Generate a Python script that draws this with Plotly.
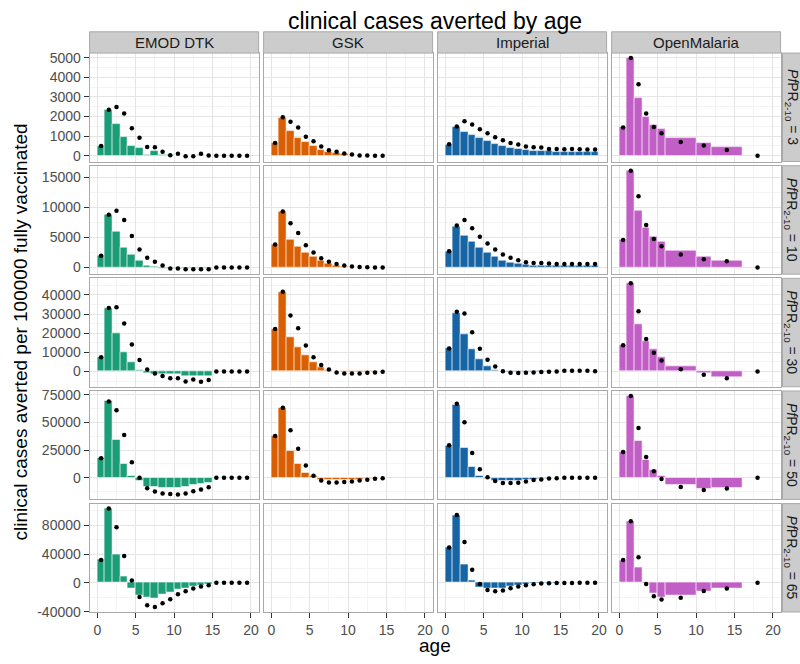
import plotly.graph_objects as go

W, H = 800, 664

models = ["EMOD DTK", "GSK", "Imperial", "OpenMalaria"]
prevalence = [3, 10, 30, 50, 65]
colors = ["#1B9E77", "#D95F02", "#1764A5", "#C25FC6"]

# ---- age bins of the bars (edges) and ages of the points ----
emod_edges = list(range(16))
gsk_edges = list(range(16))
imperial_edges = list(range(21))
om_edges = [0, 1, 2, 3, 4, 5, 6, 10, 12, 16]

emod_point_ages = [a + 0.5 for a in range(20)]
gsk_point_ages = [a + 0.5 for a in range(15)]
imperial_point_ages = [a + 0.5 for a in range(20)]
om_point_ages = [0.5, 1.5, 2.5, 3.5, 4.5, 5.5, 8, 11, 14, 18]

# ---- EMOD DTK ----
emod_bars = [
    [500, 2320, 1590, 970, 470, 370, 40, 220, 50, 20, -30, -40, 10, 30, 10],
    [1910, 8800, 6000, 3380, 2180, 1150, 380, 160, -200, -200, -250, -250, -250, -200, -200],
    [7460, 32900, 20000, 10170, 4750, 680, -1000, -1700, -1700, -1700, -1700, -2400, -2400, -2400, -2400],
    [17650, 69100, 34100, 12350, 1470, -2940, -7940, -7940, -8820, -8820, -8820, -8240, -6470, -5590, -4410],
    [31800, 103200, 38600, 8200, -8200, -18200, -20500, -21400, -16800, -13600, -10000, -7300, -5000, -3600, -1800],
]
emod_points = [
    [500, 2340, 2490, 2160, 1400, 920, 450, 430, 200, 30, 100, -20, -20, 100, 20, 0, 0, 0, 0, 0],
    [1960, 8780, 9440, 7910, 5240, 3000, 1640, 980, 330, -160, -160, -270, -270, -270, -270, 0, 0, 0, 0, 0],
    [7460, 33200, 33560, 25080, 14070, 5930, 1020, -1020, -2370, -3560, -3560, -5250, -4240, -5420, -4400, 0, 0, 0, 0, 0],
    [17650, 68800, 60880, 38530, 14120, 0, -9410, -12350, -14120, -14700, -15000, -14120, -12060, -10590, -8530, 0, 0, 0, 0, 0],
    [31800, 103200, 77300, 37300, 3200, -19500, -30900, -33600, -28200, -22700, -15900, -11800, -7700, -5000, -3200, 0, 0, 0, 0, 0],
]

# ---- GSK (no results at PfPR 65) ----
gsk_bars = [
    [650, 1900, 1240, 920, 690, 470, 300, 200, 130, 70, 30, 10, 5, 0, 0],
    [3770, 9230, 4700, 3550, 2510, 1800, 1150, 660, 330, 160, 50, 20, 10, 0, 0],
    [22200, 41360, 17630, 12540, 8300, 4750, 2030, 340, -200, -600, -600, -600, -500, -400, -200],
    [37650, 63240, 24120, 12650, 4710, 1470, -2350, -2350, -2350, -2200, -1760, -1500, -1200, -800, -300],
    [],
]
gsk_points = [
    [650, 1960, 1740, 1440, 970, 740, 470, 280, 200, 120, 70, 20, 10, 0, 0],
    [3830, 9340, 7380, 5740, 3720, 2510, 1530, 980, 600, 330, 160, 100, 50, 30, 30],
    [22200, 41700, 29300, 22540, 13560, 7460, 3390, 1020, -510, -1020, -1020, -1020, -680, -510, -170],
    [37650, 63240, 42940, 26180, 11180, 1760, -2350, -4120, -4120, -3820, -3240, -2350, -1760, -880, -290],
    [],
]

# ---- Imperial ----
imperial_bars = [
    [535, 1440, 1200, 1040, 900, 750, 600, 480, 400, 330, 280, 250, 230, 220, 200, 190, 185, 180, 175, 170],
    [2620, 6720, 5240, 4320, 3220, 2510, 1800, 1200, 870, 660, 490, 380, 330, 310, 300, 290, 285, 280, 280, 280],
    [11860, 30340, 19150, 11700, 6440, 2540, 680, 0, -500, -500, -500, -500, -350, -250, -150, -50, 0, 0, 0, 0],
    [28820, 65590, 27060, 9410, 1760, -880, -2940, -2940, -2940, -2650, -2060, -1500, -1200, -800, -500, -300, -200, -100, -50, 0],
    [49100, 93600, 25900, 3640, -6800, -8200, -8200, -7300, -5500, -3600, -2300, -1600, -1000, -700, -500, -300, -200, -100, -50, 0],
]
imperial_points = [
    [585, 1490, 1760, 1590, 1350, 1150, 950, 790, 650, 570, 470, 430, 420, 350, 350, 330, 350, 330, 320, 320],
    [2730, 6990, 7920, 6560, 5140, 3990, 3000, 2190, 1640, 1200, 870, 770, 770, 660, 600, 600, 600, 600, 600, 600],
    [12030, 31190, 30340, 20510, 11860, 6100, 2540, 170, -680, -850, -680, -510, -340, -170, 0, 340, 340, 340, 340, 170],
    [29410, 66760, 50000, 22350, 7650, 590, -2940, -4710, -4710, -4410, -3240, -2060, -1470, -590, -300, 0, 0, 0, 0, 0],
    [49100, 94100, 56800, 18200, -1400, -10000, -11800, -10500, -7300, -5000, -3200, -1800, -900, -400, -300, -200, -100, 0, 0, 0],
]

# ---- OpenMalaria ----
om_bars = [
    [1470, 4970, 2960, 1970, 1570, 1370, 900, 670, 430],
    [4640, 16120, 9400, 6560, 5140, 4320, 2790, 1750, 1200],
    [13730, 46000, 24750, 15590, 11360, 7460, 2540, -1190, -2880],
    [23530, 73530, 33530, 16470, 7060, 1470, -6470, -10290, -8820],
    [30900, 84500, 21400, -500, -15000, -20500, -18200, -12300, -7300],
]
om_points = [
    [1440, 4980, 3650, 2160, 1470, 1150, 700, 520, 300, 0],
    [4590, 16120, 11860, 7100, 4750, 3550, 2190, 1370, 1040, 0],
    [13730, 46100, 31530, 16950, 9830, 5760, 1190, -1690, -3560, 0],
    [23240, 73820, 45000, 18820, 5880, -1180, -8240, -10880, -9710, 0],
    [31800, 85500, 35500, -1400, -18600, -23200, -20500, -11400, -7700, 0],
]

# y tick marks for each PfPR row
row_ticks = [
    [0, 1000, 2000, 3000, 4000, 5000],
    [0, 5000, 10000, 15000],
    [0, 10000, 20000, 30000, 40000],
    [0, 25000, 50000, 75000],
    [-40000, 0, 40000, 80000],
]
x_ticks = [0, 5, 10, 15, 20]

edges = [emod_edges, gsk_edges, imperial_edges, om_edges]
point_ages = [emod_point_ages, gsk_point_ages, imperial_point_ages, om_point_ages]
bars = [emod_bars, gsk_bars, imperial_bars, om_bars]
points = [emod_points, gsk_points, imperial_points, om_points]

# ---- panel geometry (pixels) ----
LEFT0, PW, XSTEP = 89.6, 169.0, 174.0
TOP0, PH, YSTEP = 50.0, 110.4, 114.7
STRIP_TOP = 28.3
RSTRIP_X0, RSTRIP_X1 = 782.5, 800.0

FONT = "Liberation Sans, Arial, sans-serif"
GRID_MAJOR = "#e5e5e5"
GRID_MINOR = "#f4f4f4"
BORDER = "#a9a9a9"
TICK_FONT = dict(family=FONT, size=14, color="#4d4d4d")


def px(x):
    return x / W


def py(y):
    return 1 - y / H


def row_range(r):
    vals = [0]
    for m in range(4):
        vals += bars[m][r] + points[m][r]
    lo, hi = min(vals), max(vals)
    pad = 0.05 * (hi - lo)
    return [lo - pad, hi + pad]


def minor_between(ticks, rng):
    step = ticks[1] - ticks[0]
    out = []
    v = ticks[0] - step / 2
    while v > rng[0]:
        v -= step
    while v < rng[1]:
        if v not in ticks:
            out.append(v)
        v += step / 2
    return out


fig = go.Figure()
layout = {}
shapes = []
annotations = []

for r in range(5):
    yr = row_range(r)
    for c in range(4):
        idx = r * 4 + c + 1
        xname = "x" if idx == 1 else f"x{idx}"
        yname = "y" if idx == 1 else f"y{idx}"
        xkey = "xaxis" if idx == 1 else f"xaxis{idx}"
        ykey = "yaxis" if idx == 1 else f"yaxis{idx}"

        e = edges[c]
        bvals = bars[c][r]
        if bvals:
            centers = [(e[i] + e[i + 1]) / 2 for i in range(len(bvals))]
            widths = [e[i + 1] - e[i] for i in range(len(bvals))]
            fig.add_trace(go.Bar(
                x=centers, y=bvals, width=widths,
                marker=dict(color=colors[c],
                            line=dict(color="rgba(255,255,255,0.55)", width=1)),
                xaxis=xname, yaxis=yname, showlegend=False, hoverinfo="skip",
            ))
        pvals = points[c][r]
        fig.add_trace(go.Scatter(
            x=point_ages[c][:len(pvals)], y=pvals, mode="markers",
            marker=dict(color="black", size=4.5),
            xaxis=xname, yaxis=yname, showlegend=False, hoverinfo="skip",
        ))

        left = LEFT0 + c * XSTEP
        top = TOP0 + r * YSTEP
        bottom_row = r == 4
        first_col = c == 0

        layout[xkey] = dict(
            domain=[px(left), px(left + PW)], anchor=yname, range=[-1, 21],
            tickmode="array", tickvals=x_ticks, ticktext=[str(t) for t in x_ticks],
            showticklabels=bottom_row, ticks="outside" if bottom_row else "",
            ticklen=5, tickwidth=1, tickcolor="#333333", tickfont=TICK_FONT,
            showgrid=True, gridcolor=GRID_MAJOR, gridwidth=1,
            minor=dict(tickmode="array", tickvals=[2.5 + 5 * k for k in range(4)],
                       showgrid=True, gridcolor=GRID_MINOR, gridwidth=1, ticks=""),
            showline=True, mirror=True, linecolor=BORDER, linewidth=1,
            zeroline=False, fixedrange=True,
        )
        ticks = row_ticks[r]
        layout[ykey] = dict(
            domain=[py(top + PH), py(top)], anchor=xname, range=yr,
            tickmode="array", tickvals=ticks, ticktext=[str(t) for t in ticks],
            showticklabels=first_col, ticks="outside" if first_col else "",
            ticklen=5, tickwidth=1, tickcolor="#333333", tickfont=TICK_FONT,
            showgrid=True, gridcolor=GRID_MAJOR, gridwidth=1,
            minor=dict(tickmode="array", tickvals=minor_between(ticks, yr),
                       showgrid=True, gridcolor=GRID_MINOR, gridwidth=1, ticks=""),
            showline=True, mirror=True, linecolor=BORDER, linewidth=1,
            zeroline=False, fixedrange=True,
        )

# column strips (model names)
for c, name in enumerate(models):
    left = LEFT0 + c * XSTEP
    shapes.append(dict(type="rect", xref="paper", yref="paper",
                       x0=px(left), x1=px(left + PW), y0=py(TOP0), y1=py(STRIP_TOP),
                       fillcolor="#cccccc", line=dict(color=BORDER, width=1)))
    annotations.append(dict(x=px(left + PW / 2), y=py((TOP0 + STRIP_TOP) / 2),
                            xref="paper", yref="paper", text=name, showarrow=False,
                            xanchor="center", yanchor="middle",
                            font=dict(family=FONT, size=15, color="#1a1a1a")))

# row strips (prevalence)
for r, p in enumerate(prevalence):
    top = TOP0 + r * YSTEP
    shapes.append(dict(type="rect", xref="paper", yref="paper",
                       x0=px(RSTRIP_X0), x1=px(RSTRIP_X1 + 2), y0=py(top + PH), y1=py(top),
                       fillcolor="#cccccc", line=dict(color=BORDER, width=1)))
    annotations.append(dict(x=px((RSTRIP_X0 + RSTRIP_X1) / 2), y=py(top + PH / 2),
                            xref="paper", yref="paper",
                            text=f"<i>Pf</i>PR<sub>2-10</sub> = {p}", textangle=90,
                            showarrow=False, xanchor="center", yanchor="middle",
                            font=dict(family=FONT, size=14, color="#1a1a1a")))

panel_cx = LEFT0 + (3 * XSTEP + PW) / 2
panel_cy = TOP0 + (4 * YSTEP + PH) / 2

annotations.append(dict(x=px(panel_cx), y=py(17), xref="paper", yref="paper",
                        text="clinical cases averted by age", showarrow=False,
                        xanchor="center", yanchor="middle",
                        font=dict(family=FONT, size=23, color="black")))
annotations.append(dict(x=px(panel_cx), y=py(653), xref="paper", yref="paper",
                        text="age", showarrow=False, xanchor="center", yanchor="middle",
                        font=dict(family=FONT, size=19, color="black")))
annotations.append(dict(x=px(21), y=py(panel_cy), xref="paper", yref="paper",
                        text="clinical cases averted per 100000 fully vaccinated",
                        textangle=-90, showarrow=False, xanchor="center", yanchor="middle",
                        font=dict(family=FONT, size=19, color="black")))

fig.update_layout(
    width=W, height=H, margin=dict(l=0, r=0, t=0, b=0),
    paper_bgcolor="white", plot_bgcolor="white",
    barmode="overlay", bargap=0, showlegend=False,
    shapes=shapes, annotations=annotations,
    **layout,
)

fig.write_html("out.html")
